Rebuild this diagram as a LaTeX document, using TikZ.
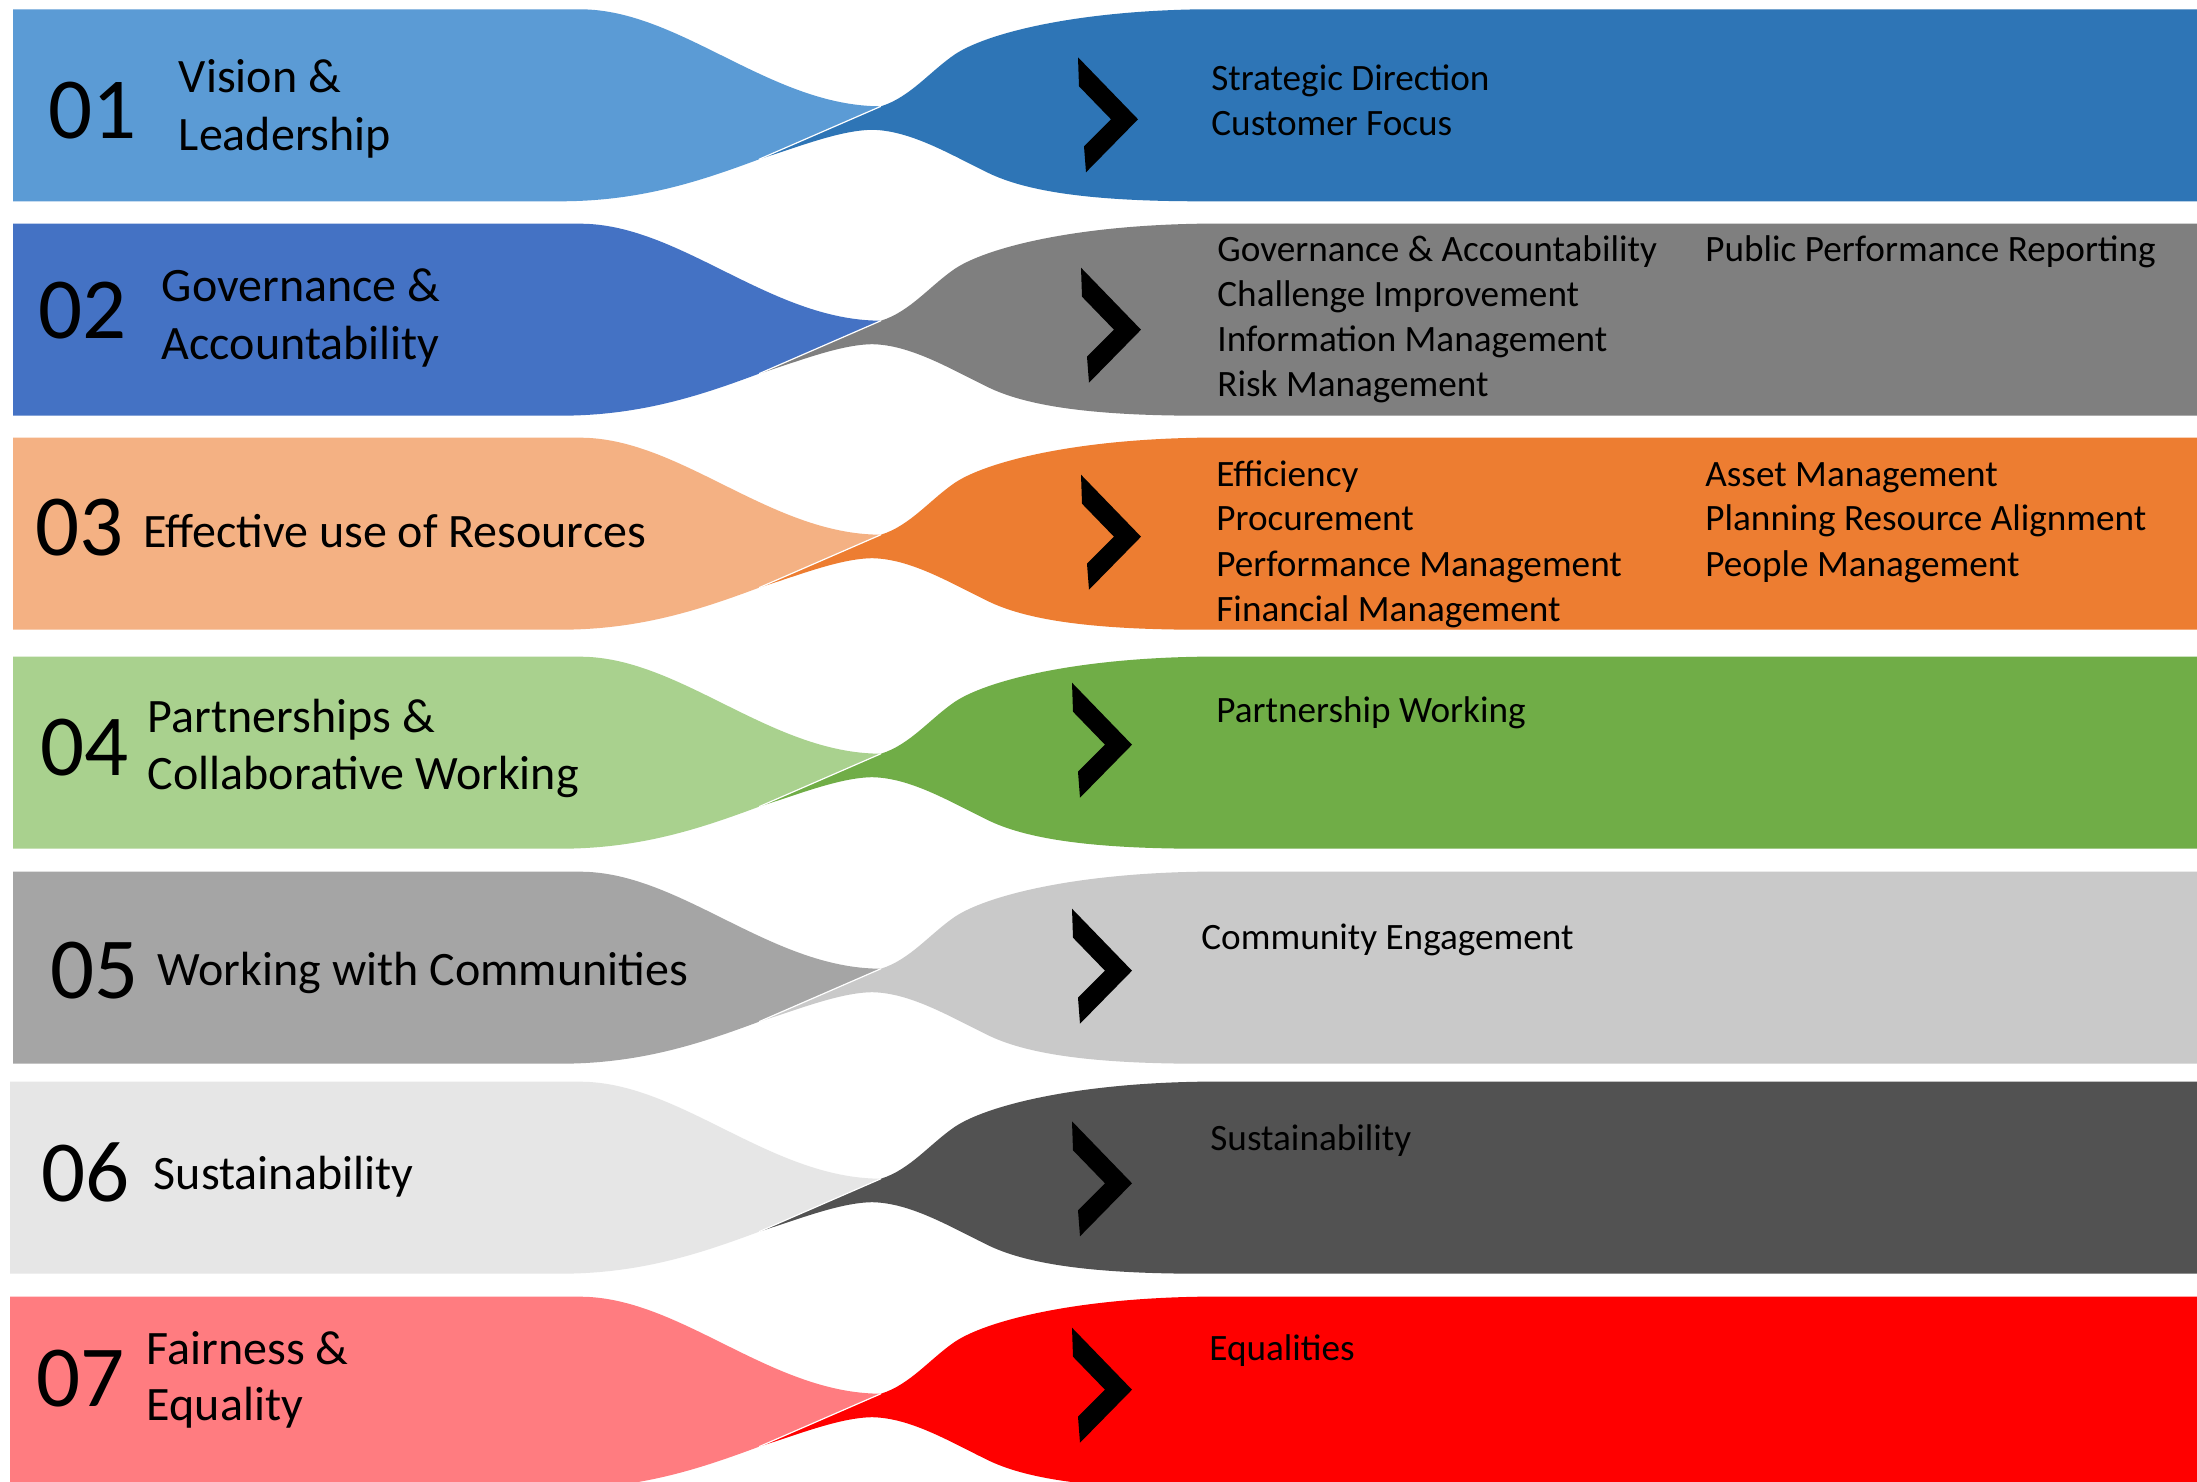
\documentclass[tikz,border=0pt]{standalone}
\usepackage{fontspec}
\setmainfont{Carlito}

% band colours: light (left) and strong (right) per row
\definecolor{ccAl}{HTML}{5B9BD5}\definecolor{ccAr}{HTML}{2E75B6}
\definecolor{ccBl}{HTML}{4472C4}\definecolor{ccBr}{HTML}{7F7F7F}
\definecolor{ccCl}{HTML}{F4B183}\definecolor{ccCr}{HTML}{ED7D31}
\definecolor{ccDl}{HTML}{A9D18E}\definecolor{ccDr}{HTML}{70AD47}
\definecolor{ccEl}{HTML}{A5A5A5}\definecolor{ccEr}{HTML}{C9C9C9}
\definecolor{ccFl}{HTML}{E6E6E6}\definecolor{ccFr}{HTML}{525252}
\definecolor{ccGl}{HTML}{FF7C80}\definecolor{ccGr}{HTML}{FF0000}

\tikzset{
  numtxt/.style={anchor=base west, inner sep=0pt, font=\fontsize{43.5}{52}\selectfont},
  labtxt/.style={anchor=base west, inner sep=0pt, font=\fontsize{24}{29}\selectfont},
  itemtxt/.style={anchor=base west, inner sep=0pt, font=\fontsize{18.6}{22.5}\selectfont},
}

% one row: #1 top, #2 left edge, #3 left colour, #4 right colour, #5/#6 chevron tip (x, y below top)
\newcommand\bandrow[6]{%
  \begin{scope}[shift={(0,#1)}]
    \fill[#3] (#2,0) -- (580,0) .. controls (680,0) and (770,97) .. (881,97)
      -- (759,150) .. controls (700,172) and (640,192) .. (560,192) -- (#2,192) -- cycle;
    \fill[#4] (759,150) -- (881,97) .. controls (910,88) and (930,62) .. (955,45)
      .. controls (985,25) and (1070,2) .. (1200,0) -- (2197,0) -- (2197,192) -- (1200,192)
      .. controls (1080,192) and (1020,180) .. (985,162)
      .. controls (950,145) and (910,121) .. (872,120.5)
      .. controls (840,121) and (800,137) .. cycle;
    \draw[white, line width=0.6pt] (759,150) -- (881,97);
    \begin{scope}[shift={(#5,#6)}]
      \fill[black] (-60,-62) -- (0,0) -- (-52,53) -- (-54,27) -- (-27,0) -- (-59,-33) -- cycle;
    \end{scope}
  \end{scope}}

\begin{document}
\begin{tikzpicture}[x=0.5pt, y=-0.5pt]
  \useasboundingbox (0,0) rectangle (2197,1482);
  \clip (0,0) rectangle (2197,1482);
  \fill[white] (0,0) rectangle (2197,1482);

  \bandrow{9.3}{13}{ccAl}{ccAr}{1138}{110}
  \bandrow{223.7}{13}{ccBl}{ccBr}{1141}{106}
  \bandrow{437.7}{13}{ccCl}{ccCr}{1141}{99}
  \bandrow{656.7}{13}{ccDl}{ccDr}{1132}{88}
  \bandrow{871.7}{13}{ccEl}{ccEr}{1132}{99}
  \bandrow{1081.7}{10}{ccFl}{ccFr}{1132}{101.6}
  \bandrow{1296.7}{10}{ccGl}{ccGr}{1132}{93}

  % row numbers
  \node[numtxt] (n1) at (48,139) {01};
  \node[numtxt] (n2) at (38,339) {02};
  \node[numtxt] (n3) at (35,555) {03};
  \node[numtxt] (n4) at (40,775.5) {04};
  \node[numtxt] (n5) at (50,998.5) {05};
  \node[numtxt] (n6) at (41,1201.5) {06};
  \node[numtxt] (n7) at (36,1406.5) {07};

  % row titles
  \node[labtxt] (t1a) at (178.5,92.5) {Vision \&};
  \node[labtxt] (t1b) at (178.5,150.2) {Leadership};
  \node[labtxt] (t2a) at (161.5,301.2) {Governance \&};
  \node[labtxt] (t2b) at (161.5,359.5) {Accountability};
  \node[labtxt] (t3a) at (143,547.5) {Effective use of Resources};
  \node[labtxt] (t4a) at (147.5,732.5) {Partnerships \&};
  \node[labtxt] (t4b) at (147.5,789.2) {Collaborative Working};
  \node[labtxt] (t5a) at (157.5,985) {Working with Communities};
  \node[labtxt] (t6a) at (153.5,1189.8) {Sustainability};
  \node[labtxt] (t7a) at (146.5,1364.2) {Fairness \&};
  \node[labtxt] (t7b) at (146.5,1420.8) {Equality};

  % items on the right
  \node[itemtxt] (i1a) at (1211,90.6) {Strategic Direction};
  \node[itemtxt] (i1b) at (1211,135.4) {Customer Focus};

  \node[itemtxt] (i2a) at (1217,261.5) {Governance \& Accountability};
  \node[itemtxt] (i2b) at (1217,306.5) {Challenge Improvement};
  \node[itemtxt] (i2c) at (1217,351.5) {Information Management};
  \node[itemtxt] (i2d) at (1217,396.5) {Risk Management};
  \node[itemtxt] (i2e) at (1705,261.5) {Public Performance Reporting};

  \node[itemtxt] (i3a) at (1216,486.2) {Efficiency};
  \node[itemtxt] (i3b) at (1216,530.2) {Procurement};
  \node[itemtxt] (i3c) at (1216,576.2) {Performance Management};
  \node[itemtxt] (i3d) at (1216,621.2) {Financial Management};
  \node[itemtxt] (i3e) at (1705,486.2) {Asset Management};
  \node[itemtxt] (i3f) at (1705,530.2) {Planning Resource Alignment};
  \node[itemtxt] (i3g) at (1705,576.2) {People Management};

  \node[itemtxt] (i4a) at (1216,722.5) {Partnership Working};
  \node[itemtxt] (i5a) at (1201,949.5) {Community Engagement};
  \node[itemtxt] (i6a) at (1210,1150.2) {Sustainability};
  \node[itemtxt] (i7a) at (1209,1360) {Equalities};
\end{tikzpicture}
\end{document}
